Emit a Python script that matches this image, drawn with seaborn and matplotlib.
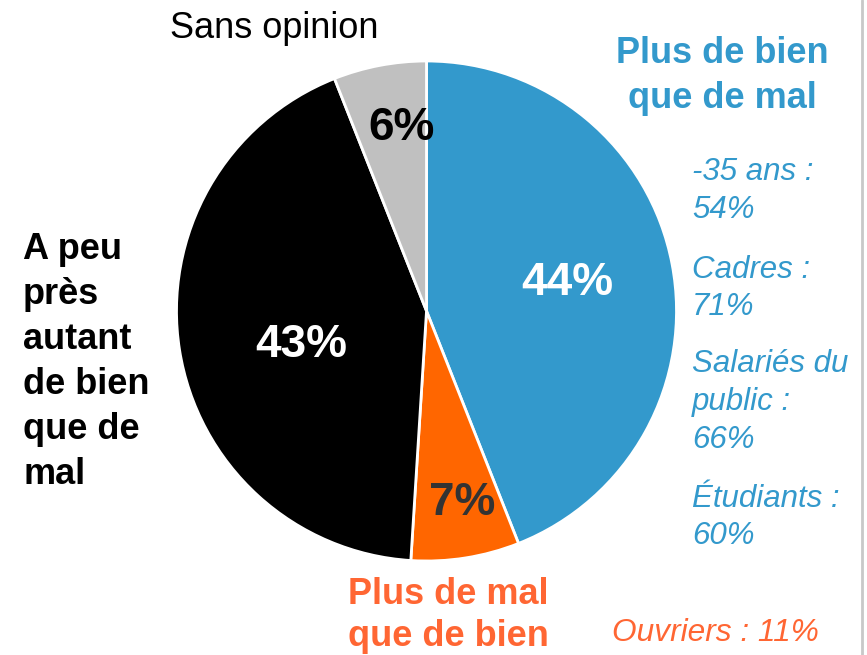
import matplotlib
matplotlib.use("Agg")
import matplotlib.pyplot as plt
import seaborn as sns

# ---- data ----
categories = ["Plus de bien que de mal", "Plus de mal que de bien",
              "A peu près autant de bien que de mal", "Sans opinion"]
values = [44, 7, 43, 6]
pct_labels = ["44%", "7%", "43%", "6%"]
slice_colors = ["#3399CC", "#FF6600", "#000000", "#C0C0C0"]
pct_colors = ["white", "#333333", "white", "black"]

blue_details = [["-35 ans :", "54%"], ["Cadres :", "71%"],
                ["Salariés du", "public :", "66%"], ["Étudiants :", "60%"]]
orange_detail = "Ouvriers : 11%"

sns.set_theme(style="white")
plt.rcParams["font.family"] = ["Liberation Sans", "DejaVu Sans"]

W, H = 867, 655
fig = plt.figure(figsize=(W / 100, H / 100), dpi=100)
ax = fig.add_axes([0, 0, 1, 1])

def Y(py):
    return H - py

cx, cy, R = 426.5, 311, 250
ax.pie(values, colors=slice_colors, startangle=90, counterclock=False,
       center=(cx, Y(cy)), radius=R,
       wedgeprops=dict(edgecolor="white", linewidth=2))

# percent labels inside slices
pct_pos = [(567, 295), (462, 515), (301, 357), (402, 140)]
for lab, col, (px, py) in zip(pct_labels, pct_colors, pct_pos):
    ax.text(px, Y(py), lab, color=col, fontsize=33, fontweight="bold",
            ha="center", va="baseline")

# category labels
blue_txt = "#3399CC"
orange_txt = "#FF6633"
for line, by in zip(["Plus de bien", "que de mal"], [63, 108]):
    ax.text(722, Y(by), line, color=blue_txt, fontsize=26, fontweight="bold",
            ha="center", va="baseline")

for line, by in zip(["Plus de mal", "que de bien"], [604, 646]):
    ax.text(348, Y(by), line, color=orange_txt, fontsize=26, fontweight="bold",
            ha="left", va="baseline")

left_lines = ["A peu", "près", "autant", "de bien", "que de", "mal"]
for i, line in enumerate(left_lines):
    ax.text(23, Y(259 + 45 * i), line, color="black", fontsize=26,
            fontweight="bold", ha="left", va="baseline")

ax.text(170, Y(38), "Sans opinion", color="black", fontsize=26,
        ha="left", va="baseline")

# detail notes
detail_baselines = [[180, 218], [278, 315], [372, 410, 448], [507, 544]]
for group, bys in zip(blue_details, detail_baselines):
    for line, by in zip(group, bys):
        ax.text(692, Y(by), line, color=blue_txt, fontsize=22.5,
                fontstyle="italic", ha="left", va="baseline")

ax.text(612, Y(641), orange_detail, color=orange_txt, fontsize=22.8,
        fontstyle="italic", ha="left", va="baseline")

# right border line
ax.plot([862, 862], [0, H], color="#C8C8C8", linewidth=2)

ax.set_xlim(0, W)
ax.set_ylim(0, H)
ax.set_aspect("equal")
ax.axis("off")

fig.savefig("out.png", dpi=100)
